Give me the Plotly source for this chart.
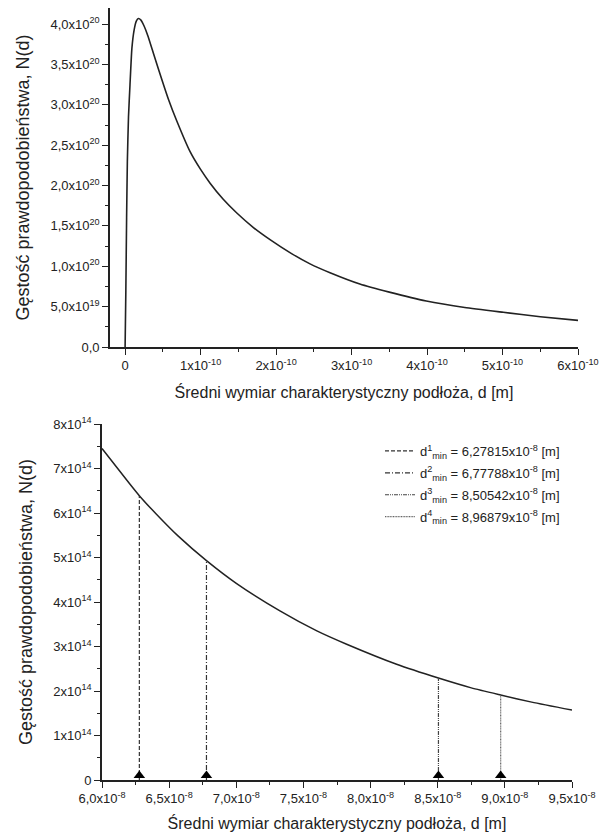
import plotly.graph_objects as go

# ---------- data ----------
# top panel: d in units of 1e-10 m, N in units of 1e20
top_d = [0, 0.01, 0.02, 0.03, 0.045, 0.065, 0.09, 0.12, 0.15, 0.176, 0.21, 0.25, 0.3,
         0.375, 0.45, 0.574, 0.685, 0.861, 1.0, 1.126, 1.3, 1.48, 1.7, 1.92, 2.2, 2.45,
         2.715, 3.11, 3.5, 3.99, 4.5, 5.01, 5.5, 6.0]
top_n = [0, 0.7, 1.6, 2.3, 2.85, 3.25, 3.7, 3.93, 4.04, 4.07, 4.05, 3.98, 3.86,
         3.64, 3.42, 3.07, 2.80, 2.42, 2.2, 2.03, 1.83, 1.66, 1.48, 1.33, 1.16, 1.03,
         0.92, 0.78, 0.68, 0.57, 0.49, 0.43, 0.375, 0.33]

# bottom panel: d in units of 1e-8 m, N in units of 1e14
bot_d = [6.0, 6.2, 6.278, 6.4, 6.568, 6.778, 7.0, 7.325, 7.6, 7.822, 8.194, 8.505,
         8.75, 8.969, 9.2, 9.5]
bot_n = [7.45, 6.68, 6.39, 5.99, 5.48, 4.93, 4.42, 3.80, 3.35, 3.05, 2.60, 2.29,
         2.07, 1.91, 1.75, 1.57]

dmin_vals = [6.27815, 6.77788, 8.50542, 8.96879]
dmin_heights = [6.39, 4.93, 2.29, 1.91]
dmin_labels = ["6,27815", "6,77788", "8,50542", "8,96879"]
dmin_dash = ["4px,2px", "5px,2px,1px,2px", "4px,1px,1px,1px,1px,1px", "1px,0.6px"]
dmin_colors = ["#333333", "#333333", "#444444", "#666666"]

top_xticks = [0, 1, 2, 3, 4, 5, 6]
top_xlabels = ["0"] + [f"{i}x10<sup>-10</sup>" for i in range(1, 7)]
top_yticks = [0, 0.5, 1.0, 1.5, 2.0, 2.5, 3.0, 3.5, 4.0]
top_ylabels = ["0,0", "5,0x10<sup>19</sup>", "1,0x10<sup>20</sup>", "1,5x10<sup>20</sup>",
               "2,0x10<sup>20</sup>", "2,5x10<sup>20</sup>", "3,0x10<sup>20</sup>",
               "3,5x10<sup>20</sup>", "4,0x10<sup>20</sup>"]
bot_xticks = [6.0, 6.5, 7.0, 7.5, 8.0, 8.5, 9.0, 9.5]
bot_xlabels = ["6,0x10<sup>-8</sup>", "6,5x10<sup>-8</sup>", "7,0x10<sup>-8</sup>",
               "7,5x10<sup>-8</sup>", "8,0x10<sup>-8</sup>", "8,5x10<sup>-8</sup>",
               "9,0x10<sup>-8</sup>", "9,5x10<sup>-8</sup>"]
bot_yticks = [0, 1, 2, 3, 4, 5, 6, 7, 8]
bot_ylabels = ["0"] + [f"{i}x10<sup>14</sup>" for i in range(1, 9)]

xtitle = "Średni wymiar charakterystyczny podłoża, d [m]"
ytitle = "Gęstość prawdopodobieństwa, N(d)"

FONT = "Liberation Sans, Arial, sans-serif"
INK = "#222222"

fig = go.Figure()

fig.add_trace(go.Scatter(x=top_d, y=top_n, mode="lines", xaxis="x", yaxis="y",
                         line=dict(color=INK, width=1.6, shape="spline", smoothing=0.5),
                         showlegend=False, hoverinfo="skip"))

fig.add_trace(go.Scatter(x=bot_d, y=bot_n, mode="lines", xaxis="x2", yaxis="y2",
                         line=dict(color=INK, width=1.5, shape="spline", smoothing=0.6),
                         showlegend=False, hoverinfo="skip"))

for i, (dv, hv, lab, dash, col) in enumerate(zip(dmin_vals, dmin_heights, dmin_labels,
                                                 dmin_dash, dmin_colors)):
    fig.add_trace(go.Scatter(
        x=[dv, dv], y=[0, hv], mode="lines", xaxis="x2", yaxis="y2",
        line=dict(color=col, width=1.2, dash=dash), legendgroup=f"g{i}",
        name=f"d<sup>{i+1}</sup><sub>min</sub> = {lab}x10<sup>-8</sup> [m]",
        showlegend=True, hoverinfo="skip"))

fig.add_trace(go.Scatter(x=dmin_vals, y=[0.1] * len(dmin_vals), mode="markers",
                         xaxis="x2", yaxis="y2", cliponaxis=False,
                         marker=dict(symbol="triangle-up", size=10, color="black"),
                         showlegend=False, hoverinfo="skip"))

W, H = 608, 839
OFF = 8  # page body margin


def px_x(a, b):
    return [(a - OFF) / W, (b - OFF) / W]


def px_y(top, bottom):
    return [1 - (bottom - OFF) / H, 1 - (top - OFF) / H]


axis_common = dict(showline=True, linecolor=INK, linewidth=1.6, ticks="outside",
                   ticklen=6, tickwidth=1.4, tickcolor=INK, showgrid=False,
                   zeroline=False, tickmode="array", automargin=False,
                   tickfont=dict(family=FONT, size=13, color=INK))
XTFONT = dict(family=FONT, size=16, color=INK)
YTFONT = dict(family=FONT, size=18, color=INK)

fig.update_layout(
    width=W, height=H, margin=dict(l=0, r=0, t=0, b=0, autoexpand=False),
    paper_bgcolor="white", plot_bgcolor="white",
    font=dict(family=FONT, color=INK),
    xaxis=dict(**axis_common, domain=px_x(110, 578), anchor="y",
               range=[-0.2, 6.0], tickvals=top_xticks, ticktext=top_xlabels,
               minor=dict(tickvals=[0.5, 1.5, 2.5, 3.5, 4.5, 5.5], ticks="outside",
                          ticklen=3, tickwidth=1.2, tickcolor=INK),
               title=dict(text=xtitle, font=XTFONT, standoff=14)),
    yaxis=dict(**axis_common, domain=px_y(8, 347), anchor="x",
               range=[0, 4.2], tickvals=top_yticks, ticktext=top_ylabels,
               minor=dict(tickvals=[0.25, 0.75, 1.25, 1.75, 2.25, 2.75, 3.25, 3.75],
                          ticks="outside", ticklen=3, tickwidth=1.2, tickcolor=INK),
               title=dict(text=ytitle, font=YTFONT, standoff=16)),
    xaxis2=dict(**axis_common, domain=px_x(102, 572), anchor="y2",
                range=[6.0, 9.5], tickvals=bot_xticks, ticktext=bot_xlabels,
                minor=dict(tickvals=[6.25, 6.75, 7.25, 7.75, 8.25, 8.75, 9.25],
                           ticks="outside", ticklen=3, tickwidth=1.2, tickcolor=INK),
                title=dict(text=xtitle, font=XTFONT, standoff=12)),
    yaxis2=dict(**axis_common, domain=px_y(424, 780), anchor="x2",
                range=[0, 8], tickvals=bot_yticks, ticktext=bot_ylabels,
                minor=dict(tickvals=[0.5, 1.5, 2.5, 3.5, 4.5, 5.5, 6.5, 7.5],
                           ticks="outside", ticklen=3, tickwidth=1.2, tickcolor=INK),
                title=dict(text=ytitle, font=YTFONT, standoff=16)),
    legend=dict(x=(380 - OFF) / W, y=1 - (436 - OFF) / H, xanchor="left", yanchor="top",
                bgcolor="rgba(0,0,0,0)", itemwidth=30,
                font=dict(family=FONT, size=13, color=INK), tracegroupgap=2),
)

fig.write_html("out.html")
